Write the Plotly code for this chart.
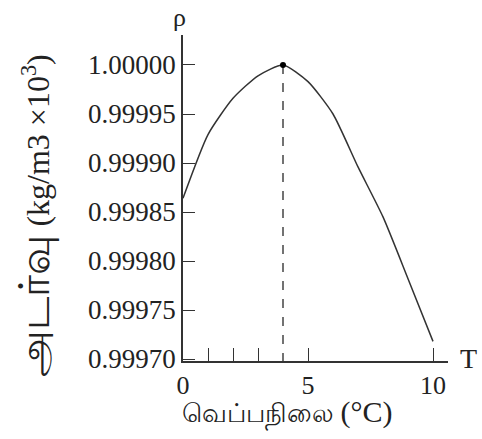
import plotly.graph_objects as go

temps = [0, 1, 2, 3, 4, 5, 6, 7, 8, 9, 10]
density = [0.999864, 0.999929, 0.999966, 0.999989, 1.000000, 0.999983,
           0.999950, 0.999896, 0.999845, 0.999782, 0.999718]
peak_t = [4]
peak_rho = [1.00000]

y_ticks = [0.99970, 0.99975, 0.99980, 0.99985, 0.99990, 0.99995, 1.00000]
y_labels = ["0.99970", "0.99975", "0.99980", "0.99985", "0.99990", "0.99995", "1.00000"]
x_ticks = [0, 5, 10]
x_labels = ["0", "5", "10"]
x_minor_ticks = [1, 2, 3]

x_title_ta = "வெப்பநிலை"
x_title_unit = "(°C)"
y_title_ta = "அடர்வு"
y_title_unit = "(kg/m3 ×10<sup>3</sup>)"

serif = "Liberation Serif, Times New Roman, serif"
ink = "#333333"
txt = "#222222"

fig = go.Figure()
fig.add_trace(go.Scatter(x=temps, y=density, mode="lines",
                         line=dict(color=ink, width=1.5, shape="spline", smoothing=0.6),
                         hoverinfo="skip"))
fig.add_trace(go.Scatter(x=[peak_t[0], peak_t[0]], y=[peak_rho[0], y_ticks[0] - 0.000002],
                         mode="lines", line=dict(color="#444444", width=1.5, dash="dash"),
                         hoverinfo="skip"))
fig.add_trace(go.Scatter(x=peak_t, y=peak_rho, mode="markers",
                         marker=dict(color="black", size=6), hoverinfo="skip"))

fig.update_layout(
    width=482, height=439,
    margin=dict(l=183, r=34, t=35, b=78),
    paper_bgcolor="white", plot_bgcolor="white",
    showlegend=False,
    font=dict(family=serif, color=txt),
    xaxis=dict(range=[0, 10.6], showgrid=False, zeroline=False, automargin=False,
               showline=True, linecolor=ink, linewidth=1.5,
               tickvals=x_ticks, ticktext=x_labels, ticks="inside",
               ticklen=13, tickwidth=1.2, tickcolor=ink,
               minor=dict(tickvals=x_minor_ticks, ticks="inside", ticklen=13,
                          tickwidth=1.2, tickcolor=ink, showgrid=False),
               tickfont=dict(family=serif, size=26, color=txt)),
    yaxis=dict(range=[0.999698, 1.0000306], showgrid=False, zeroline=False, automargin=False,
               showline=True, linecolor=ink, linewidth=1.5,
               tickvals=y_ticks, ticktext=y_labels, ticks="inside",
               ticklen=12, tickwidth=1.2, tickcolor=ink,
               tickfont=dict(family=serif, size=27, color=txt)),
    annotations=[
        dict(text=x_title_ta + " <span style='font-size:30px'>" + x_title_unit + "</span>",
             x=0.3925, xref="paper", y=-0.1595, yref="paper",
             xanchor="center", yanchor="middle", showarrow=False,
             font=dict(family=serif, size=26, color=txt)),
        dict(text="<span style='font-size:42px'>" + y_title_ta + "</span> " + y_title_unit,
             x=-0.5547, xref="paper", y=0.446, yref="paper", textangle=-90,
             xanchor="center", yanchor="middle", showarrow=False,
             font=dict(family=serif, size=32, color=txt)),
        dict(text="ρ", x=-0.015, xref="paper", y=1.055, yref="paper",
             xanchor="center", yanchor="middle",
             showarrow=False, font=dict(family=serif, size=26, color=txt)),
        dict(text="T", x=1.079, xref="paper", y=0.0092, yref="paper",
             xanchor="center", yanchor="middle",
             showarrow=False, font=dict(family=serif, size=28, color=txt)),
    ],
)

fig.write_html("out.html", post_script="document.body.style.margin='0px';",
               config={"displayModeBar": False})
